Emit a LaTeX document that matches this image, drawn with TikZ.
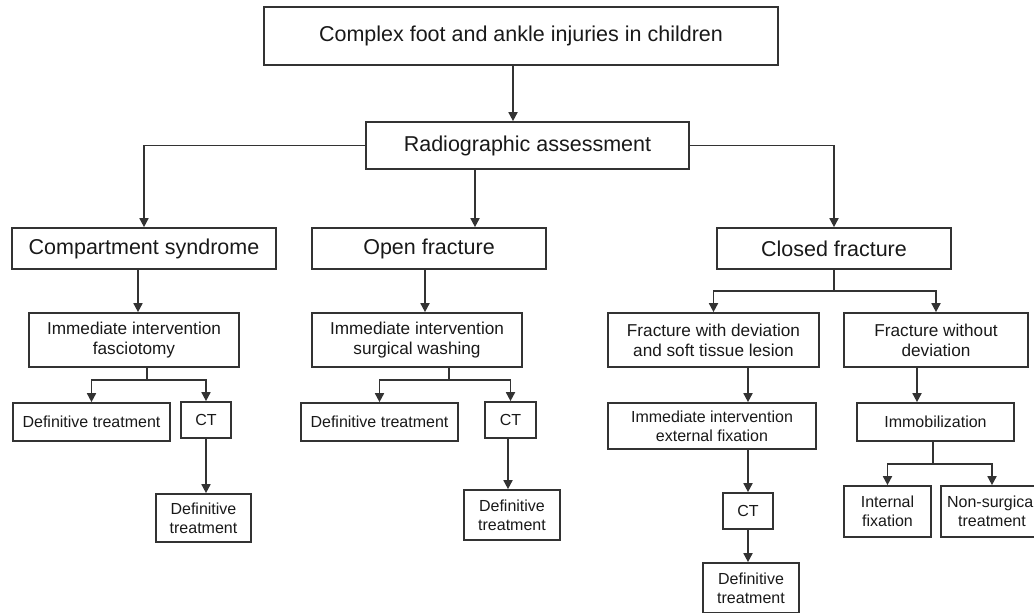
\documentclass[tikz,border=0pt]{standalone}
\usepackage{fontspec}
\setmainfont{Liberation Sans}
\usetikzlibrary{arrows.meta}
\definecolor{linegray}{HTML}{333333}
\begin{document}
\begin{tikzpicture}[x=0.5pt,y=-0.5pt,
	box/.style={draw=linegray,line width=0.85pt,inner sep=0pt,align=center,text=black!90},
	big/.style={font=\fontsize{10.75}{13}\selectfont},
	mid/.style={font=\fontsize{8.6}{10}\selectfont},
	small/.style={font=\fontsize{8}{9.5}\selectfont},
	sz/.style 2 args={minimum width={#1*0.5pt},minimum height={#2*0.5pt}},
	link/.style={draw=linegray,line width=0.85pt},
	arr/.style={link,-{Triangle[length=4.5pt,width=4.5pt]}}]
	\useasboundingbox (0,0) rectangle (1034,612);
	% boxes
	\node[box,big,sz={514}{58}] (top) at (521,36) {Complex foot and ankle injuries in children};
	\node[box,big,sz={323}{47}] (radio) at (527.5,145.5) {Radiographic assessment};
	\node[box,big,sz={264}{41}] (comp) at (144,248.5) {Compartment syndrome};
	\node[box,big,sz={234}{41}] (open) at (429,248.5) {Open fracture};
	\node[box,big,sz={234}{41}] (closed) at (834,248.5) {Closed fracture};
	\node[box,mid,sz={210}{54}] (fascio) at (134,340) {Immediate intervention\\fasciotomy};
	\node[box,mid,sz={210}{54}] (washing) at (417,340) {Immediate intervention\\surgical washing};
	\node[box,mid,sz={211}{54}] (deviation) at (713.5,340) {Fracture with deviation\\and soft tissue lesion};
	\node[box,mid,sz={184}{54}] (nodeviation) at (936,340) {Fracture without\\deviation};
	\node[box,small,sz={157}{38}] (defa) at (91.5,422) {Definitive treatment};
	\node[box,small,sz={50}{36}] (cta) at (206,420) {CT};
	\node[box,small,sz={95}{48}] (defa2) at (203.5,518) {Definitive\\treatment};
	\node[box,small,sz={157}{38}] (defb) at (379.5,422) {Definitive treatment};
	\node[box,small,sz={51}{36}] (ctb) at (510.5,420) {CT};
	\node[box,small,sz={96}{50}] (defb2) at (512,515) {Definitive\\treatment};
	\node[box,small,sz={208}{46}] (extfix) at (712,426) {Immediate intervention\\external fixation};
	\node[box,small,sz={157}{38}] (immob) at (935.5,422) {Immobilization};
	\node[box,small,sz={50}{36}] (ctc) at (748,511) {CT};
	\node[box,small,sz={96}{50}] (defc) at (751,588) {Definitive\\treatment};
	\node[box,small,sz={87}{51}] (intfix) at (887.5,511.5) {Internal\\fixation};
	\node[box,small,sz={102}{51}] (nonsurg) at (992,511.5) {Non-surgical\\treatment};
	% where the lines run
	\coordinate (xa) at (513,0);
	\coordinate (xb) at (475,0);
	\coordinate (xc) at (138,0);
	\coordinate (xd) at (425,0);
	\coordinate (xe) at (748,0);
	\coordinate (xf) at (917,0);
	\coordinate (xg) at (508,0);
	\coordinate (ja) at (147,380);
	\coordinate (jb) at (449,380);
	\coordinate (jc) at (834,291);
	\coordinate (jd) at (933,464);
	% connectors
	\draw[arr] (top.south -| xa) -- (radio.north -| xa);
	\draw[arr] (radio.west) -| (comp.north);
	\draw[arr] (radio.south -| xb) -- (open.north -| xb);
	\draw[arr] (radio.east) -| (closed.north);
	\draw[arr] (comp.south -| xc) -- (fascio.north -| xc);
	\draw[arr] (open.south -| xd) -- (washing.north -| xd);
	\draw[link] (fascio.south -| ja) -- (ja);
	\draw[arr] (ja) -| (defa.north);
	\draw[arr] (ja) -| (cta.north);
	\draw[arr] (cta.south) -- (cta.south |- defa2.north);
	\draw[link] (washing.south -| jb) -- (jb);
	\draw[arr] (jb) -| (defb.north);
	\draw[arr] (jb) -| (ctb.north);
	\draw[arr] (ctb.south -| xg) -- (defb2.north -| xg);
	\draw[link] (closed.south) -- (jc);
	\draw[arr] (jc) -| (deviation.north);
	\draw[arr] (jc) -| (nodeviation.north);
	\draw[arr] (deviation.south -| xe) -- (extfix.north -| xe);
	\draw[arr] (extfix.south -| ctc) -- (ctc.north);
	\draw[arr] (ctc.south) -- (ctc.south |- defc.north);
	\draw[arr] (nodeviation.south -| xf) -- (immob.north -| xf);
	\draw[link] (immob.south -| jd) -- (jd);
	\draw[arr] (jd) -| (intfix.north);
	\draw[arr] (jd) -| (nonsurg.north);
\end{tikzpicture}
\end{document}
